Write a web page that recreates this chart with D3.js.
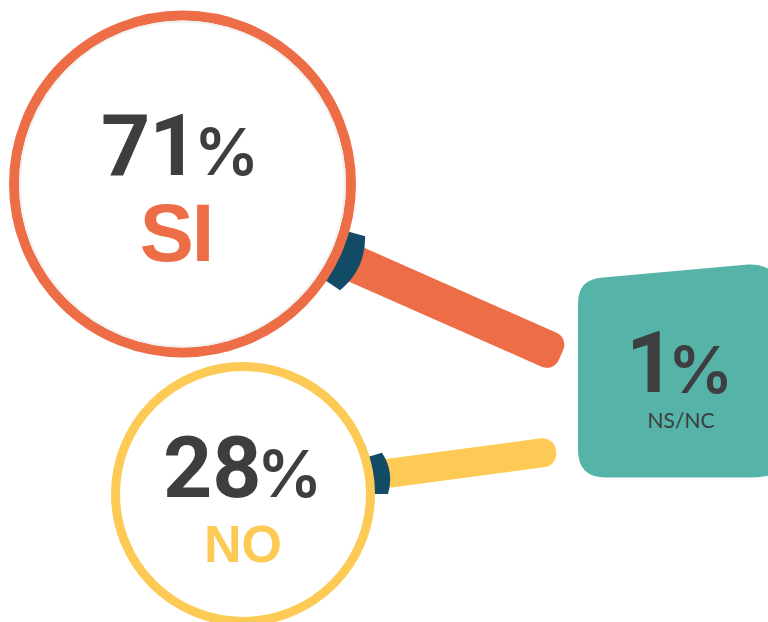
<!DOCTYPE html>
<html>
<head>
<meta charset="utf-8">
<script src="https://cdn.jsdelivr.net/npm/d3@7"></script>
<style>
html, body { margin: 0; padding: 0; background: #fff; overflow: hidden; }
svg { display: block; }
</style>
</head>
<body>
<div id="chart"></div>
<script>
// Data
var categories = ["SI", "NO", "NS/NC"];
var values = [71, 28, 1];

// Colours
var ringColors = ["#ED6E46", "#FDCB55"];
var collarColor = "#124B66";
var boxColor = "#56B3A7";
var textColor = "#3E3E40";

var w = 768;
var h = 622;

// Glass size follows the value
var radius = d3.scaleLinear().domain([28, 71]).range([127.5, 168.5]);

// Where each magnifying glass sits (one per answer, box is drawn apart)
var glasses = [
	{ i: 0, cx: 182.5, cy: 184, stroke: 10, collar: [106, 124], outer: [190, 196], end: [561, 355], handleW: 37,
		numX: 101, numY: 175, numSize: 86, numGap: -1, pctX: 194, pctY: 175, pctSize: 65,
		labelX: 176, labelY: 261, labelSize: 81, labelGap: -2 },
	{ i: 1, cx: 243, cy: 494, stroke: 9, collar: [73.5, 90], outer: [145, 149], end: [556, 451], handleW: 29,
		numX: 163, numY: 497, numSize: 86, numGap: 0, pctX: 257, pctY: 497, pctSize: 65,
		labelX: 243, labelY: 562, labelSize: 52, labelGap: 0 }
];

var svg = d3.select("#chart")
	.append("svg")
	.attr("width", w)
	.attr("height", h);

// Polar point around a glass, angle in degrees from 12 o'clock
function polar(g, r, deg) {
	var a = deg * Math.PI / 180;
	return [g.cx + r * Math.sin(a), g.cy - r * Math.cos(a)];
}

// Handles first, the collars go over them
glasses.forEach(function(g) {
	var r = radius(values[g.i]);
	var mid = (g.collar[0] + g.collar[1]) / 2;
	var s = polar(g, r, mid);
	var dx = g.end[0] - s[0];
	var dy = g.end[1] - s[1];

	svg.append("rect")
		.attr("x", 0)
		.attr("y", -g.handleW / 2)
		.attr("width", Math.sqrt(dx * dx + dy * dy))
		.attr("height", g.handleW)
		.attr("rx", 13)
		.attr("transform", "translate(" + s[0] + "," + s[1] + ") rotate(" + Math.atan2(dy, dx) * 180 / Math.PI + ")")
		.style("fill", ringColors[g.i]);

	// Collar bulges out a bit more than the ring does
	var p0 = polar(g, r, g.collar[0]);
	var p1 = polar(g, g.outer[0], g.collar[0]);
	var c = polar(g, g.outer[1] + (g.outer[1] - g.outer[0]), mid);
	var p2 = polar(g, g.outer[0], g.collar[1]);
	var p3 = polar(g, r, g.collar[1]);
	var collar = d3.path();
	collar.moveTo(p0[0], p0[1]);
	collar.lineTo(p1[0], p1[1]);
	collar.quadraticCurveTo(c[0], c[1], p2[0], p2[1]);
	collar.lineTo(p3[0], p3[1]);
	collar.closePath();

	svg.append("path")
		.attr("d", collar.toString())
		.style("fill", collarColor);
});

// Rings
svg.selectAll("circle.ring")
	.data(glasses)
	.enter()
	.append("circle")
	.attr("class", "ring")
	.attr("cx", function(d) { return d.cx; })
	.attr("cy", function(d) { return d.cy; })
	.attr("r", function(d) { return radius(values[d.i]); })
	.style("fill", "#fff")
	.style("stroke", function(d) { return ringColors[d.i]; })
	.style("stroke-width", function(d) { return d.stroke; });

// Thin grey edge inside the big glass
svg.append("circle")
	.attr("cx", glasses[0].cx)
	.attr("cy", glasses[0].cy)
	.attr("r", radius(values[0]) - glasses[0].stroke / 2 - 1)
	.style("fill", "none")
	.style("stroke", "#F1F1F2")
	.style("stroke-width", 2);

// Numbers
svg.selectAll("text.num")
	.data(glasses)
	.enter()
	.append("text")
	.attr("class", "num")
	.attr("x", function(d) { return d.numX; })
	.attr("y", function(d) { return d.numY; })
	.style("font-family", "Roboto")
	.style("font-weight", 700)
	.style("letter-spacing", function(d) { return d.numGap + "px"; })
	.style("font-size", function(d) { return d.numSize + "px"; })
	.style("fill", textColor)
	.text(function(d) { return values[d.i]; });

svg.selectAll("text.pct")
	.data(glasses)
	.enter()
	.append("text")
	.attr("class", "pct")
	.attr("x", function(d) { return d.pctX; })
	.attr("y", function(d) { return d.pctY; })
	.style("font-family", "Inter")
	.style("font-weight", 600)
	.style("font-size", function(d) { return d.pctSize + "px"; })
	.style("fill", textColor)
	.text("%");

svg.selectAll("text.label")
	.data(glasses)
	.enter()
	.append("text")
	.attr("class", "label")
	.attr("x", function(d) { return d.labelX; })
	.attr("y", function(d) { return d.labelY; })
	.attr("text-anchor", "middle")
	.style("font-family", "'Liberation Sans'")
	.style("font-weight", 700)
	.style("letter-spacing", function(d) { return d.labelGap + "px"; })
	.style("font-size", function(d) { return d.labelSize + "px"; })
	.style("fill", function(d) { return ringColors[d.i]; })
	.text(function(d) { return categories[d.i]; });

// Box for the last answer, right side runs off the page
var box = d3.path();
box.moveTo(578, 303);
box.quadraticCurveTo(578, 279, 603, 277.5);
box.lineTo(748, 264.5);
box.quadraticCurveTo(772, 263, 782, 285);
box.lineTo(782, 470);
box.quadraticCurveTo(770, 477.5, 750, 477.5);
box.lineTo(606, 477.5);
box.quadraticCurveTo(578, 477.5, 578, 450);
box.closePath();

svg.append("path")
	.attr("d", box.toString())
	.style("fill", boxColor);

// Negative spacing pulls the % in close to the 1
svg.append("text")
	.attr("x", 626)
	.attr("y", 392)
	.style("font-family", "Roboto")
	.style("font-weight", 700)
	.style("font-size", "86px")
	.style("letter-spacing", "-7px")
	.style("fill", textColor)
	.text(values[2]);

svg.append("text")
	.attr("x", 668)
	.attr("y", 393)
	.style("font-family", "Inter")
	.style("font-weight", 600)
	.style("font-size", "65px")
	.style("fill", textColor)
	.text("%");

svg.append("text")
	.attr("x", 681)
	.attr("y", 428)
	.attr("text-anchor", "middle")
	.style("font-family", "Lato")
	.style("font-size", "21px")
	.style("fill", textColor)
	.text(categories[2]);
</script>
</body>
</html>
